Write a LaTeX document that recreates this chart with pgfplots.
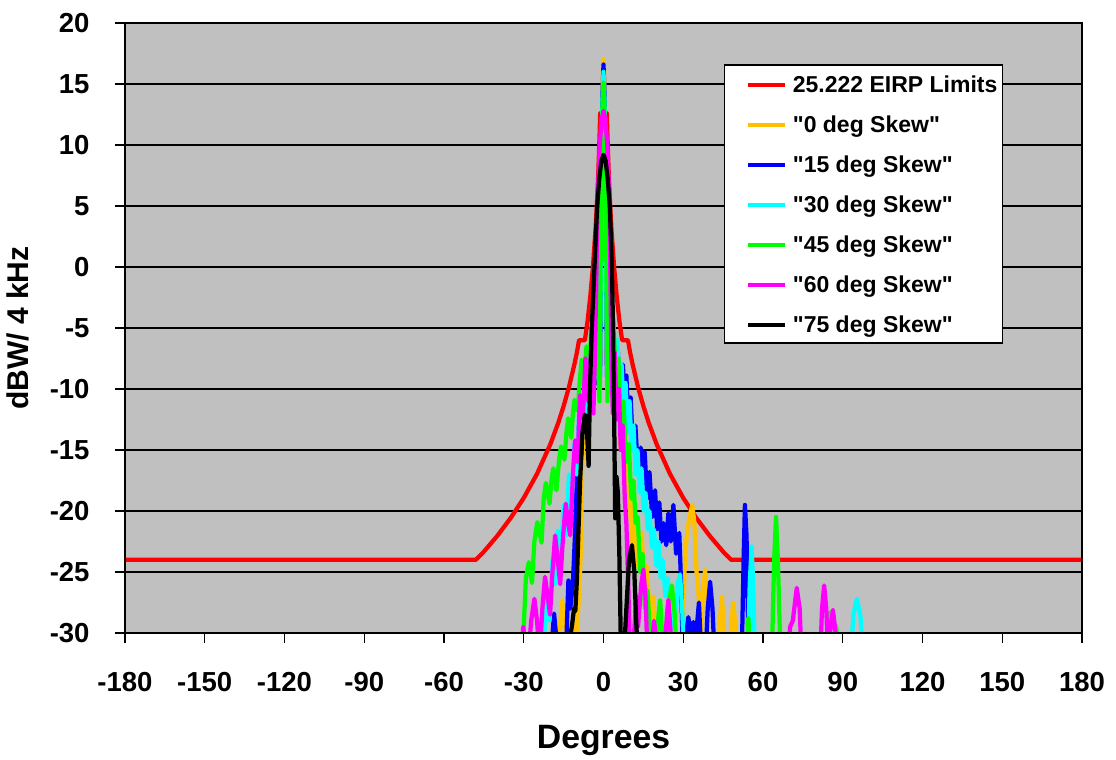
\documentclass[border=0pt]{standalone}
\usepackage{pgfplots}
\pgfplotsset{compat=1.18}
\usepackage{fontspec}
\setmainfont{Liberation Sans}[Ligatures=TeXOff]
\definecolor{silver}{HTML}{C0C0C0}
\definecolor{xlorange}{HTML}{FFC000}
\definecolor{xlblue}{HTML}{0000FF}
\definecolor{xlcyan}{HTML}{00FFFF}
\definecolor{xlgreen}{HTML}{00FF00}
\definecolor{xlmagenta}{HTML}{FF00FF}
\definecolor{xlred}{HTML}{FF0000}
\begin{document}
\begin{tikzpicture}
\begin{axis}[
  scale only axis,
  width=382.8pt, height=244pt,
  xmin=-180, xmax=180, ymin=-30, ymax=20,
  xtick={-180,-150,...,180},
  ytick={-30,-25,...,20},
  /pgf/number format/assume math mode=true,
  tick pos=left,
  tick align=outside,
  major tick length=4pt,
  tick style={black, line width=0.5pt},
  ymajorgrids,
  major grid style={black, line width=0.8pt},
  axis line style={black, line width=1pt},
  axis background/.style={fill=silver},
  xticklabel style={font=\fontsize{11}{13}\selectfont\bfseries, anchor=base, inner sep=0pt, yshift=-19.4pt},
  yticklabel style={font=\fontsize{11}{13}\selectfont\bfseries, anchor=east, inner sep=0pt, xshift=-10pt},
  xlabel={Degrees},
  ylabel={dBW/ 4 kHz},
  xlabel style={font=\fontsize{13.5}{15}\selectfont\bfseries, at={(axis description cs:0.5,-0.190)}, anchor=base, inner sep=0pt},
  ylabel style={font=\fontsize{12}{14}\selectfont\bfseries, at={(axis description cs:-0.1013,0.5)}, anchor=base, rotate=0, inner sep=0pt},
  legend cell align=left,
  legend image code/.code={\path (0pt,0pt); \draw[#1, line width=1.6pt] (6.4pt,-0.3pt) -- (21.2pt,-0.3pt);},
  legend style={at={(0.6259,0.9324)}, anchor=north west, draw=black, line width=0.6pt, fill=white,
    font=\fontsize{9.2}{11}\selectfont\bfseries, inner xsep=2pt, inner ysep=2.6pt, row sep=6.24pt,
    nodes={inner sep=0pt, text height=8.3pt, text depth=1.5pt},
    /tikz/every odd column/.append style={column sep=2.4pt}},
  every axis plot/.append style={line width=1.7pt, line join=round},
]
% 25.222 EIRP limits
\addplot[xlred] coordinates {
(-180,-24) (-48,-24) (-45,-23.33) (-40,-22.05) (-35,-20.60) (-30,-18.93) (-25,-16.95) (-20,-14.53)
(-17,-12.76) (-15,-11.40) (-13,-9.85) (-11,-8.03) (-10,-7.0) (-9.2,-6.0) (-7,-6.0) (-6,-4.45)
(-5,-2.47) (-4,-0.05) (-3,3.07) (-2.5,5.05) (-2,7.47) (-1.5,10.6) (-1.25,12.6) (1.25,12.6)
(1.5,10.6) (2,7.47) (2.5,5.05) (3,3.07) (4,-0.05) (5,-2.47) (6,-4.45) (7,-6.0) (9.2,-6.0)
(10,-7.0) (11,-8.03) (13,-9.85) (15,-11.40) (17,-12.76) (20,-14.53) (25,-16.95) (30,-18.93)
(35,-20.60) (40,-22.05) (45,-23.33) (48,-24) (180,-24)
};
\addlegendentry{25.222 EIRP Limits}
% 0 deg skew
\addplot[xlorange] coordinates {
(-17.2,-32) (-15.6,-27.3) (-14.4,-30) (-13.5,-32) (-12.3,-32) (-11.3,-29) (-10.5,-31) (-9.6,-28.5)
(-8.8,-25) (-8.3,-21.5) (-8.1,-17) (-7.3,-12) (-6.5,-14.5) (-5.5,-9.5) (-4.6,-12) (-3.7,-6.5)
(-2.8,-9.5) (-2.0,-3.5) (-1.3,-8) (-1.0,0) (-0.7,9) (-0.4,14.5) (0,17) (0.4,14.5) (0.7,9) (1.0,0)
(1.3,-8) (2.0,-3.5) (2.8,-8.5) (3.7,-6) (4.6,-11) (5.5,-9.5) (6.5,-15) (7.5,-13) (8.5,-19)
(9.5,-16.5) (10.5,-22.5) (11.5,-19) (12.5,-24.5) (13.5,-23) (14.4,-21.8) (15.3,-26) (16.3,-24.5)
(17.5,-29) (18.7,-27) (20,-31) (21,-29.5) (22,-32) (28.5,-32) (29.9,-30) (30.6,-24) (31.3,-22.1)
(32.3,-20.5) (33.4,-19.5) (34.2,-21) (35.0,-25) (35.7,-26.5) (36.6,-31) (37.3,-27) (38.2,-24.8)
(39,-28) (39.6,-32) (43,-32) (43.8,-29) (44.5,-27) (45.2,-29) (45.9,-32) (47.6,-32) (48.2,-29)
(48.8,-27.5) (49.4,-29) (50.2,-32)
};
\addlegendentry{"0 deg Skew"}
% 15 deg skew
\addplot[xlblue] coordinates {
(-19.8,-32) (-18.6,-28.4) (-17.5,-31) (-16.5,-32) (-14.2,-32) (-13.2,-25.7) (-12.5,-28) (-11.5,-25.9)
(-10.7,-21.8) (-10.1,-17.5) (-9.3,-13) (-8.4,-15.5) (-7.5,-11) (-6.5,-13.5) (-5.5,-9) (-4.5,-11.5)
(-3.6,-6) (-2.8,-9.5) (-2.0,-3.5) (-1.3,-9) (-1.0,0) (-0.7,8.5) (-0.4,14) (0,16.6) (0.4,14)
(0.7,8.5) (1.0,0) (1.3,-9) (2.0,-3) (2.8,-8.5) (3.6,-5) (4.4,-9.5) (5.3,-6.5) (6.2,-10.5) (7.3,-8)
(8.0,-11.5) (8.6,-8.9) (9.4,-13) (10.2,-10.7) (11.1,-15) (12.0,-13) (13.0,-17) (14.0,-14.8)
(14.8,-17.5) (15.5,-15.2) (16.4,-19) (17.3,-16.8) (18.3,-20.5) (19.4,-18.3) (20.2,-21.5) (21.0,-19.3)
(21.8,-22.5) (22.6,-21) (23.6,-22.8) (24.4,-20.2) (25.3,-22.5) (26.3,-19.5) (27.3,-23.5) (28.5,-21.8)
(29.2,-26) (29.8,-31) (30.6,-32) (31.2,-30) (31.9,-28.7) (32.8,-30) (33.8,-29.1) (34.7,-32) (35.3,-29)
(35.9,-27.5) (36.6,-31) (37.2,-32) (38.4,-32) (39.2,-28) (40.1,-25.8) (41,-28) (41.8,-32) (52,-32)
(52.7,-24) (53.2,-19.5) (53.8,-22) (54.6,-32)
};
\addlegendentry{"15 deg Skew"}
% 30 deg skew
\addplot[xlcyan] coordinates {
(-22.8,-32) (-21.5,-27.5) (-20.3,-29) (-19.2,-24) (-18.2,-26) (-17.1,-21.6) (-16.1,-24) (-15,-19.5)
(-14,-22) (-13,-17) (-12,-19.5) (-11,-14.5) (-10.1,-17) (-9.2,-12) (-8.2,-14.5) (-7.3,-10)
(-6.4,-12.5) (-5.5,-7.5) (-4.6,-10.5) (-3.7,-5) (-2.9,-9) (-2.1,-3.5) (-1.4,-10) (-1.0,0) (-0.7,8)
(-0.4,13.5) (0,16) (0.4,13.5) (0.7,8) (1.0,0) (1.4,-10) (2.1,-3.5) (2.9,-8) (3.7,-4.5) (4.6,-9)
(5.3,-6) (6.0,-10.5) (6.8,-8) (7.6,-12) (8.3,-9.5) (9.1,-13.5) (9.8,-11) (10.6,-15) (11.3,-13)
(12.1,-17) (12.8,-15) (13.6,-18.5) (14.3,-16.5) (15.1,-20) (15.8,-18.5) (16.6,-21.5) (17.3,-20)
(18.2,-23) (19.0,-21.5) (19.9,-24.5) (20.7,-22.5) (21.5,-25.5) (22.3,-24) (23.3,-27) (24.2,-25.5)
(25.2,-29) (26,-27.5) (26.8,-30) (27.8,-26) (28.8,-25.2) (29.6,-28) (30.3,-32) (54.3,-32) (55,-26)
(55.7,-22.9) (56.3,-26) (57,-32) (93,-32) (94,-28.5) (95.3,-27.2) (96.6,-28.5) (97.7,-32)
};
\addlegendentry{"30 deg Skew"}
% 45 deg skew
\addplot[xlgreen] coordinates {
(-30.5,-32) (-29.8,-28.5) (-29.2,-25.5) (-28.1,-24.2) (-26.9,-25.9) (-26,-22.5) (-24.9,-20.9)
(-23.3,-22.6) (-22.5,-19) (-21.7,-17.7) (-20.3,-19.4) (-19.6,-17.5) (-18.9,-16.5) (-17.7,-18.3)
(-16.8,-16) (-16,-14.7) (-14.7,-15.8) (-13.9,-13.5) (-13.3,-12.4) (-12.1,-14) (-11.5,-12)
(-10.9,-10.9) (-9.7,-11.8) (-9.0,-9.5) (-8.2,-7.6) (-7.3,-9.5) (-6.4,-6.5) (-5.5,-9.5) (-4.6,-5)
(-3.8,-8.5) (-3.0,-3.5) (-2.3,-7) (-1.5,-11) (-1.1,0) (-0.8,7) (-0.4,12.8) (0,15.1) (0.4,12.8)
(0.8,7) (1.1,0) (1.5,-11) (2.2,-3) (3.0,-8.5) (3.8,-4.5) (4.7,-10) (5.6,-7.5) (6.5,-13) (7.5,-11)
(8.5,-16) (9.5,-14.5) (10.5,-19) (11.3,-17.5) (12.1,-21) (12.9,-20.5) (13.8,-25) (14.7,-23.5)
(15.6,-28) (16.5,-26.5) (17.5,-30) (18.5,-32) (20,-30) (21.3,-27.3) (22.3,-31) (23,-32) (24,-28)
(25.7,-26.1) (26.8,-28.5) (27.5,-32) (53.7,-32) (54.5,-28.8) (55.3,-32) (63.3,-32) (64.2,-24)
(64.9,-20.5) (65.6,-24) (66.6,-32) (84,-32) (84.6,-28.5) (85.4,-28.3) (86.4,-29) (87.5,-29.5) (88.8,-32)
};
\addlegendentry{"45 deg Skew"}
% 60 deg skew
\addplot[xlmagenta] coordinates {
(-31,-32) (-30.2,-29.5) (-29.5,-31) (-28.3,-32) (-27.2,-29) (-26,-27.2) (-25,-29) (-24,-32) (-23,-28)
(-22,-25.4) (-21,-27) (-20.1,-28.5) (-19.2,-25) (-18.2,-22) (-17.2,-24) (-16.3,-26) (-15.2,-22)
(-14.2,-19.4) (-13.3,-21) (-12.5,-22) (-11.5,-17) (-10.7,-14.2) (-9.8,-16) (-8.8,-10.5) (-7.8,-12.5)
(-6.8,-7.5) (-5.7,-11) (-4.6,-6.5) (-3.8,-12) (-3.2,-7) (-2.7,-1) (-2.3,4.9) (-1.4,10) (-0.7,12.1)
(0,12.8) (0.7,12.1) (1.4,10) (2.3,4.9) (2.6,-1) (3.0,-8) (3.5,-12) (4.2,-7) (5.0,-12.5) (5.8,-10)
(6.5,-15) (7.2,-13) (8.0,-19) (8.6,-21) (9.3,-26) (10,-32) (11,-32) (12.3,-27) (13,-29.5) (14.2,-26)
(15,-24.8) (15.8,-27) (16.6,-32) (18,-32) (19,-29) (20,-31) (23,-31) (24.4,-27.3) (25.6,-31)
(26.3,-32) (69.5,-32) (70.2,-29.5) (71.2,-29) (72.7,-26.3) (73.8,-28) (74.5,-32) (81.5,-32) (82.2,-28)
(83,-26.1) (83.8,-28) (84.5,-32) (85.2,-30) (86.3,-28.1) (87.3,-30) (88.3,-32)
};
\addlegendentry{"60 deg Skew"}
% 75 deg skew
\addplot[black] coordinates {
(-12.8,-32) (-12.3,-30) (-11.8,-29.3) (-11.1,-28) (-10.6,-28.2) (-10,-25.6) (-9.4,-21.5) (-8.8,-17.5)
(-7.9,-13.5) (-7.0,-12.1) (-6.2,-13.5) (-5.6,-16.3) (-5.1,-10) (-4.4,-5) (-3.3,0.5) (-2.4,4.9)
(-1.6,7.2) (-0.8,8.7) (0,9.2) (0.8,8.7) (1.6,7.2) (2.4,4.9) (3.1,0.5) (3.6,-5) (4.0,-12) (4.4,-20.6)
(4.9,-17.2) (5.4,-18.5) (6.0,-24) (6.6,-32) (7.6,-32) (8.6,-28) (9.6,-24) (10.7,-22.8) (11.6,-25)
(12.3,-29) (12.9,-32)
};
\addlegendentry{"75 deg Skew"}
\draw[black, line width=1pt] (rel axis cs:0,0) rectangle (rel axis cs:1,1);
\end{axis}
\path (-50pt,-50.4pt) rectangle (396.4pt,253.2pt);
\end{tikzpicture}
\end{document}
